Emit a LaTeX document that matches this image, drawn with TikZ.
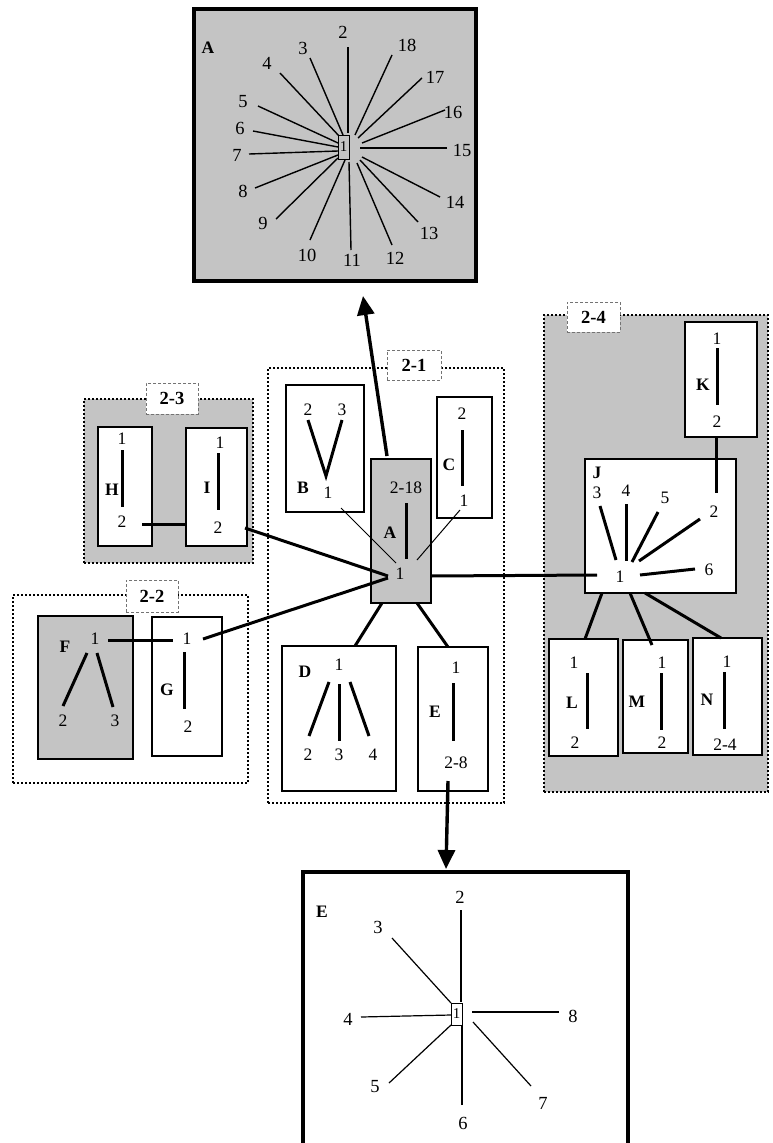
\documentclass[tikz,border=0pt]{standalone}
\usepackage{fontspec}
\setmainfont{Liberation Serif}
\usetikzlibrary{arrows.meta}
\definecolor{panel}{RGB}{196,196,196}
\begin{document}
\begin{tikzpicture}[x=1pt,y=-1pt,
  frame/.style={draw, line width=2.6pt, fill=white, inner sep=0pt},
  shaded/.style={frame, fill=panel},
  bigframe/.style={draw, line width=3.8pt, inner sep=0pt},
  group/.style={draw, line width=2.8pt, dash pattern=on 2pt off 2pt, inner sep=0pt},
  tag/.style={draw=black!55, densely dashed, line width=0.6pt, fill=white, inner sep=0pt,
    font=\bfseries\fontsize{18.5}{18.5}\selectfont},
  num/.style={font=\fontsize{17.5}{17.5}\selectfont, inner sep=0.5pt},
  bignum/.style={font=\fontsize{18.5}{18.5}\selectfont, inner sep=0.5pt},
  letter/.style={font=\bfseries\fontsize{17.5}{17.5}\selectfont, inner sep=0.5pt},
  core/.style={draw, line width=0.9pt, inner sep=0pt, font=\fontsize{15}{15}\selectfont},
  bond/.style={line width=3pt},
  ray/.style={line width=1.4pt},
  fine/.style={line width=1pt},
  link/.style={line width=3pt},
  zoomarrow/.style={line width=3.4pt, -{Triangle[length=19pt,width=17pt]}}]
\useasboundingbox (0,0) rectangle (772,1143);

% ---------- group backgrounds ----------
\node[group, fill=panel, minimum width=169pt, minimum height=164pt] (g23) at (168.5,481) {};
\node[group, minimum width=235pt, minimum height=188pt] (g22) at (130.5,689) {};
\node[group, minimum width=236pt, minimum height=435pt] (g21) at (386,585.5) {};
\node[group, fill=panel, minimum width=224pt, minimum height=477pt] (g24) at (656,553.5) {};
\node[tag, minimum width=52pt, minimum height=31pt] (t23) at (172,398.5) {2-3};
\node[tag, minimum width=52pt, minimum height=32pt] (t22) at (152,596) {2-2};
\node[tag, minimum width=54pt, minimum height=30pt] (t21) at (414,365) {2-1};
\node[tag, minimum width=53pt, minimum height=30pt] (t24) at (593.5,317) {2-4};

% ---------- enlarged view of A ----------
\node[bigframe, fill=panel, minimum width=282pt, minimum height=272pt] (bigA) at (335,145) {};
\node[letter] (bigAname) at (208,48) {A};
\foreach \n/\lx/\ly/\ax/\ay/\bx/\by in {
  2/343/32/348/47/348/133, 3/303/48/310/58/343/135, 4/267/63/280/73/340/137,
  5/243/102/258/106/338/143, 6/240/128/253/131/338/147, 7/237/155/249/154/338/151,
  8/243/191/255/188/338/155, 9/263/223/276/219/338/158, 10/307/255/310/240/345/160,
  11/352/260/351/250/349/162, 12/395/258/392/245/357/163, 13/429/233/418/222/360/160,
  14/455/202/440/197/362/157, 15/462/150/447/148/360/148, 16/453/112/445/110/362/143,
  17/435/77/422/78/358/138, 18/407/45/392/55/355/135}{
  \node[bignum] (bigA\n) at (\lx,\ly) {\n};
  \coordinate (bigAo\n) at (\ax,\ay);
  \coordinate (bigAi\n) at (\bx,\by);
  \draw[ray] (bigAo\n) -- (bigAi\n);
}
\node[core, fill=panel, minimum width=11pt, minimum height=24pt] (bigAcore) at (343.5,147) {1};

% ---------- enlarged view of E ----------
\node[inner sep=0pt, minimum width=325pt, minimum height=290pt] (bigE) at (465.5,1017) {};
\draw[line width=3.8pt] (bigE.south west) -- (bigE.north west) -- (bigE.north east) -- (bigE.south east);
\node[letter] (bigEname) at (322,912) {E};
\foreach \n/\lx/\ly/\ax/\ay/\bx/\by in {
  2/460/897/461/910/461/1002, 3/378/927/392/938/451/1003, 4/348/1019/361/1017/451/1015,
  5/375/1087/389/1083/451/1025, 6/463/1123/462/1105/462/1026, 7/543/1103/531/1086/473/1022,
  8/573/1016/559/1012/472/1012}{
  \node[bignum] (bigE\n) at (\lx,\ly) {\n};
  \coordinate (bigEo\n) at (\ax,\ay);
  \coordinate (bigEi\n) at (\bx,\by);
  \draw[ray, line width=1.2pt] (bigEo\n) -- (bigEi\n);
}
\node[core, fill=white, minimum width=11pt, minimum height=22pt] (bigEcore) at (456.5,1014) {1};

% ---------- group 2-1 ----------
\node[frame, minimum width=78pt, minimum height=127pt] (B) at (325,448.5) {};
\node[num] (B2) at (308,410) {2};
\node[num] (B3) at (342,410) {3};
\draw[bond, line join=miter] (308,420) -- (326,476) -- (342,420);
\node[letter] (Bname) at (303,488) {B};
\node[num] (B1) at (328,493) {1};

\node[frame, minimum width=55pt, minimum height=121pt] (C) at (464.5,457.5) {};
\node[num] (C2) at (462,414) {2};
\draw[bond] (462,430) -- (462,486);
\node[letter] (Cname) at (449,465) {C};
\node[num] (C1) at (464,501) {1};

\node[shaded, minimum width=60pt, minimum height=144pt] (Am) at (401,531) {};
\node[num] (Am218) at (406,488) {2-18};
\draw[bond] (406,503) -- (406,559);
\node[letter] (Amname) at (390,533) {A};
\node[num] (Am1) at (400,574) {1};

\node[frame, minimum width=114pt, minimum height=145pt] (D) at (339,718.5) {};
\node[letter] (Dname) at (305,672) {D};
\node[num] (D1) at (339,665) {1};
\draw[bond] (329,682) -- (309,736);
\draw[bond] (339,684) -- (339,741);
\draw[bond] (350,682) -- (369,736);
\node[num] (D2) at (308,755) {2};
\node[num] (D3) at (339,755) {3};
\node[num] (D4) at (373,755) {4};

\node[frame, minimum width=70pt, minimum height=144pt] (E) at (453,719) {};
\node[num] (E1) at (456,668) {1};
\draw[bond] (453,683) -- (453,741);
\node[letter] (Ename) at (435,712) {E};
\node[num] (E28) at (456,763) {2-8};

% ---------- group 2-3 ----------
\node[frame, minimum width=54pt, minimum height=119pt] (H) at (125,486.5) {};
\node[num] (H1) at (122,439) {1};
\draw[bond] (122,450) -- (122,507);
\node[letter] (Hname) at (112,490) {H};
\node[num] (H2) at (122,522) {2};

\node[frame, minimum width=61pt, minimum height=118pt] (I) at (216.5,487) {};
\node[num] (I1) at (220,443) {1};
\draw[bond] (218,453) -- (218,510);
\node[letter] (Iname) at (207,488) {I};
\node[num] (I2) at (218,528) {2};

% ---------- group 2-2 ----------
\node[shaded, minimum width=95pt, minimum height=143pt] (F) at (85.5,687.5) {};
\node[letter] (Fname) at (65,647) {F};
\node[num] (F1) at (95,639) {1};
\draw[bond] (87,653) -- (63,706);
\draw[bond] (97,653) -- (113,707);
\node[num] (F2) at (63,721) {2};
\node[num] (F3) at (115,721) {3};

\node[frame, minimum width=70pt, minimum height=139pt] (G) at (187,686.5) {};
\node[num] (G1) at (187,639) {1};
\draw[bond] (184,652) -- (184,709);
\node[letter] (Gname) at (167,690) {G};
\node[num] (G2) at (188,727) {2};

% ---------- group 2-4 ----------
\node[frame, minimum width=72pt, minimum height=115pt] (K) at (721,379.5) {};
\node[num] (K1) at (717,339) {1};
\draw[bond] (717,348) -- (717,405);
\node[letter] (Kname) at (703,385) {K};
\node[num] (K2) at (717,422) {2};

\node[frame, minimum width=151pt, minimum height=134pt] (J) at (660.5,526) {};
\node[letter] (Jname) at (597,473) {J};
\node[num] (J3) at (597,493) {3};
\node[num] (J4) at (626,491) {4};
\node[num] (J5) at (665,498) {5};
\node[num] (J2) at (714,512) {2};
\node[num] (J6) at (709,570) {6};
\node[num] (J1) at (620,577) {1};
\draw[bond] (600,506) -- (616,560);
\draw[bond] (626,504) -- (626,561);
\draw[bond] (658,512) -- (632,562);
\draw[bond] (700,519) -- (639,561);
\draw[bond] (695,569) -- (640,575);

\node[frame, minimum width=69pt, minimum height=117pt] (L) at (583.5,697.5) {};
\node[num] (L1) at (574,663) {1};
\draw[bond] (587,673) -- (587,729);
\node[letter] (Lname) at (572,703) {L};
\node[num] (L2) at (575,743) {2};

\node[frame, minimum width=65pt, minimum height=113pt] (M) at (655.5,696.5) {};
\node[num] (M1) at (662,663) {1};
\draw[bond] (661,673) -- (661,730);
\node[letter] (Mname) at (637,702) {M};
\node[num] (M2) at (662,743) {2};

\node[frame, minimum width=69pt, minimum height=117pt] (N) at (727.5,696.5) {};
\node[num] (N1) at (727,662) {1};
\draw[bond] (724,672) -- (724,729);
\node[letter] (Nname) at (707,700) {N};
\node[num] (N24) at (725,745) {2-4};

% ---------- connectors ----------
\coordinate (hubL) at (388,576);
\coordinate (hubL2) at (388,578);
\coordinate (hubR) at (431,576);
\coordinate (H2end) at (142,524);
\coordinate (I2end) at (245,528);
\coordinate (F1end) at (108,640);
\coordinate (G1in) at (173,640);
\coordinate (G1end) at (203,639);
\coordinate (J1end) at (597,575);
\coordinate (Kfoot) at (716,493);
\coordinate (AmTop) at (387,456);
\coordinate (AmBotL) at (382,603);
\coordinate (AmBotR) at (417,603);
\coordinate (DTop) at (355,646);
\coordinate (ETop) at (448,647);
\coordinate (EFoot) at (448,781);
\coordinate (B1end) at (341,508);
\coordinate (C1end) at (460,510);
\coordinate (Am1a) at (396,563);
\coordinate (Am1b) at (417,560);
\coordinate (JbL) at (602,593);
\coordinate (JbM) at (630,593);
\coordinate (JbN) at (645,593);
\coordinate (LTop) at (585,639);
\coordinate (MTop) at (652,645);
\coordinate (NTop) at (721,638);
\coordinate (bigAfoot) at (363,296);
\coordinate (bigEhead) at (446,869);

\draw[link] (H2end) -- (I.west |- H2end);
\draw[link] (F1end) -- (G1in);
\draw[link] (I2end) -- (hubL);
\draw[link] (G1end) -- (hubL2);
\draw[link] (hubR) -- (J1end);
\draw[link] (AmBotL) -- (DTop);
\draw[link] (AmBotR) -- (ETop);
\draw[fine] (B1end) -- (Am1a);
\draw[fine] (C1end) -- (Am1b);
\draw[link] (K.south -| Kfoot) -- (Kfoot);
\draw[link] (JbL) -- (LTop);
\draw[link] (JbM) -- (MTop);
\draw[link] (JbN) -- (NTop);

\draw[zoomarrow] (AmTop) -- (bigAfoot);
\draw[zoomarrow] (EFoot) -- (bigEhead);
\end{tikzpicture}
\end{document}
